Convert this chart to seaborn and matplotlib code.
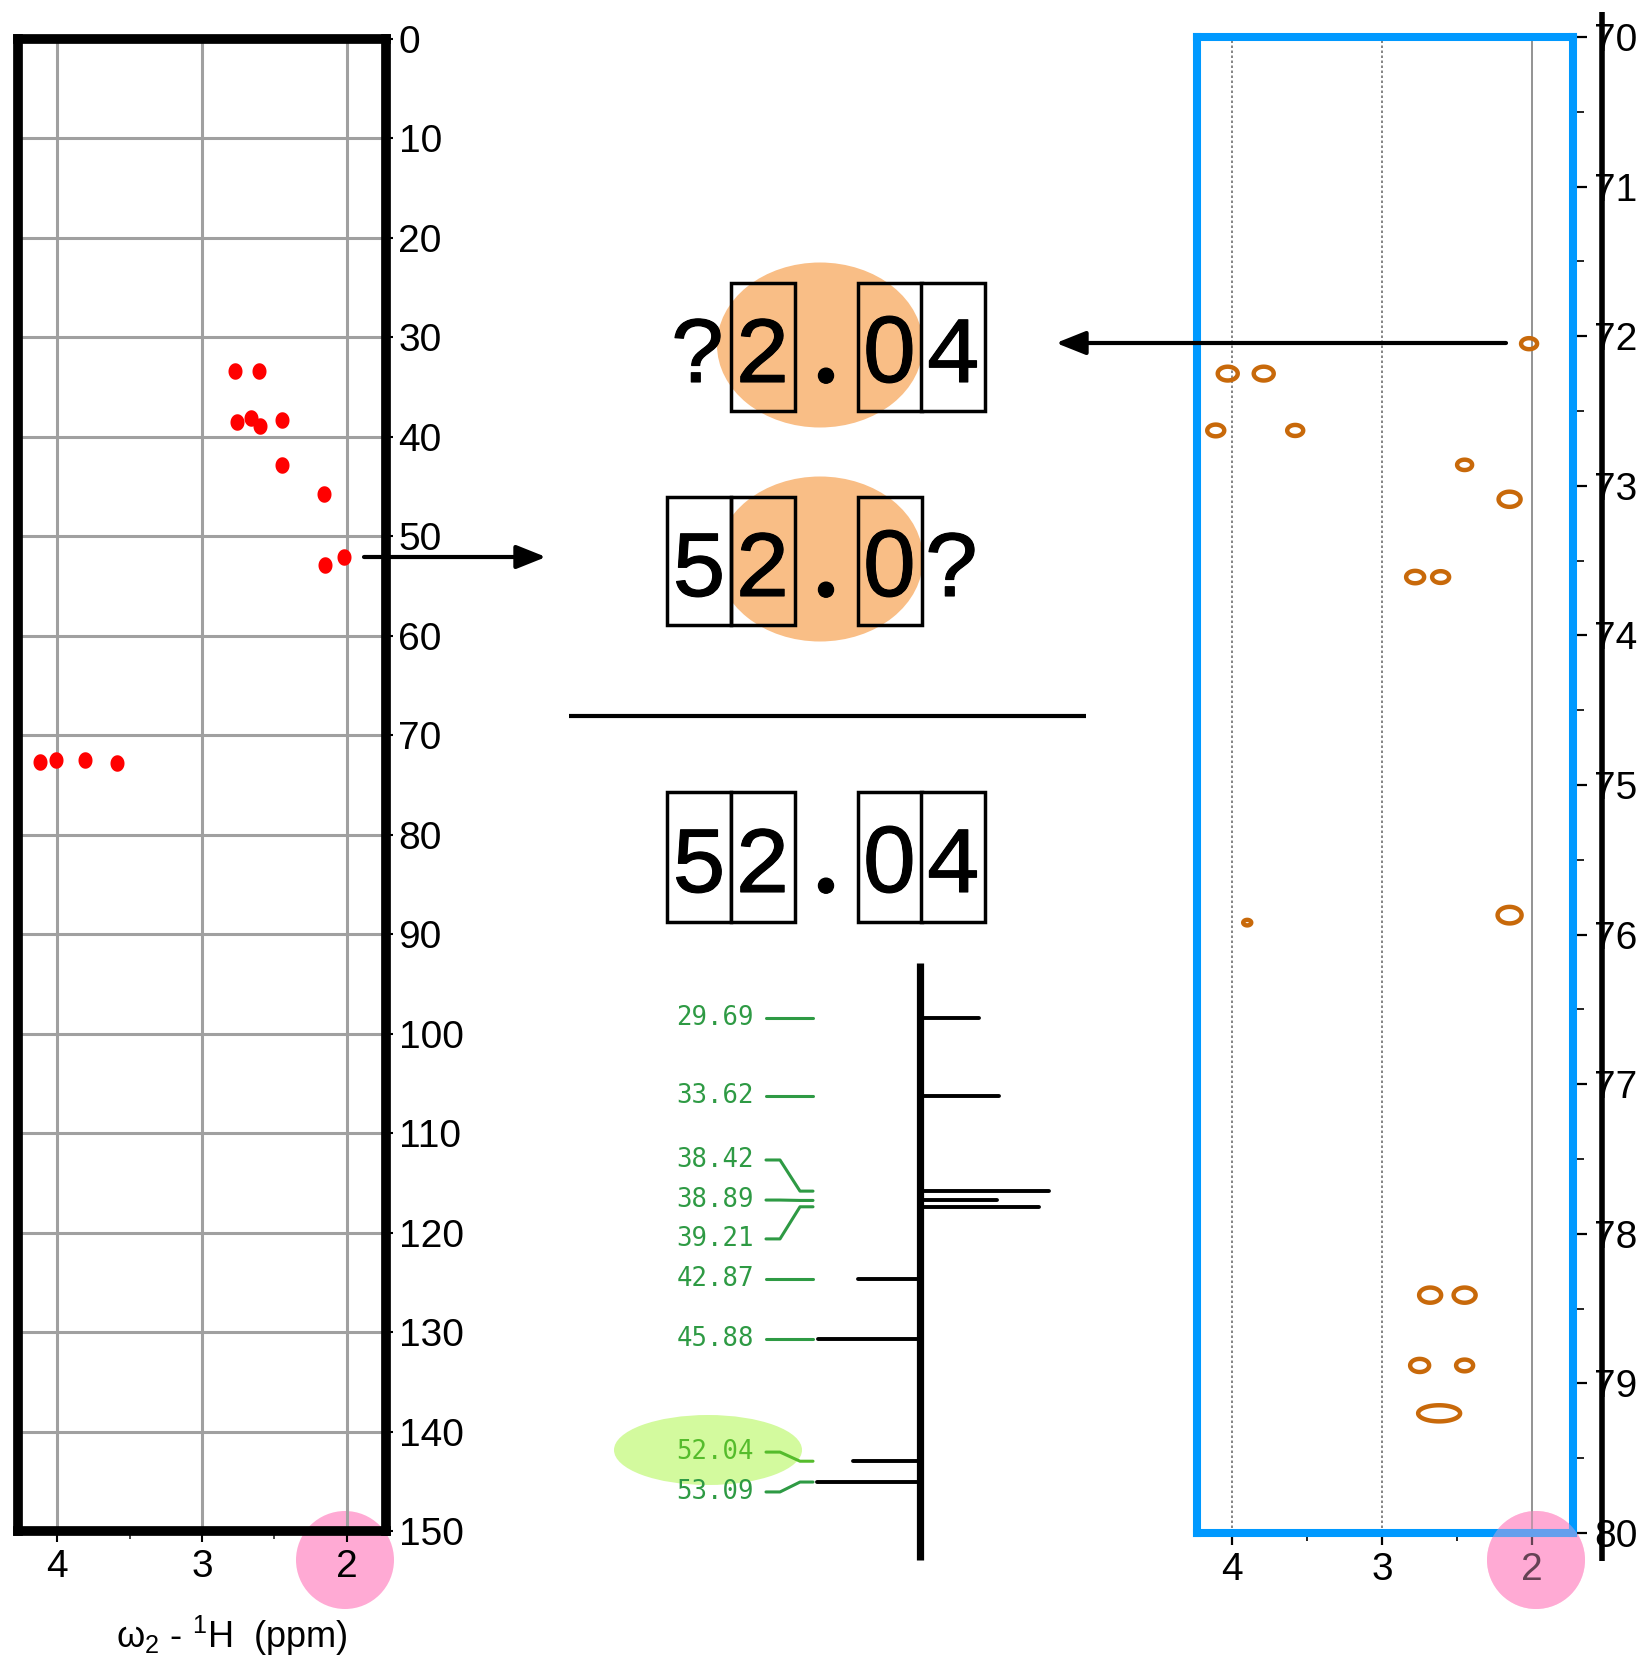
import numpy as np
import matplotlib
matplotlib.use("Agg")
import matplotlib.pyplot as plt
import matplotlib.patheffects as pe
import seaborn as sns
from matplotlib.patches import Ellipse, Rectangle, Circle
from matplotlib.path import Path
from matplotlib.transforms import blended_transform_factory
from matplotlib.ticker import FixedLocator

# ---------------- data ----------------
# 1H-13C HSQC, full 13C window (0-150 ppm)
full_h_ppm = [2.77, 2.61, 2.76, 2.66, 2.60, 2.45, 2.45, 2.16, 2.02, 2.15,
              4.12, 4.01, 3.81, 3.59]
full_c_ppm = [33.4, 33.4, 38.5, 38.1, 38.9, 38.3, 42.8, 45.7, 52.1, 52.9,
              72.7, 72.5, 72.5, 72.8]

# 1H-13C HSQC, narrow 13C window (70-80 ppm, signals folded in)
fold_h_ppm = [2.02, 4.03, 3.79, 4.11, 3.58, 2.45, 2.15, 2.78, 2.61,
              3.90, 2.15, 2.68, 2.45, 2.75, 2.45, 2.62]
fold_c_ppm = [72.05, 72.25, 72.25, 72.63, 72.63, 72.86, 73.09, 73.61, 73.61,
              75.92, 75.87, 78.41, 78.41, 78.88, 78.88, 79.20]
fold_shape = ["round"] * 15 + ["broad"]

# 1D 13C spectrum (positive and negative lines)
c13_shift = [29.69, 33.62, 38.42, 38.89, 39.21, 42.87, 45.88, 52.04, 53.09]
c13_intensity = [46, 61, 100, 60, 92, -48, -79, -52, -80]
spectrum_start, spectrum_end = 26.9, 57.0

# shift puzzle: digits read from each experiment and the combined answer
shift_from_1h = "?2.04"
shift_from_13c = "52.0?"
shift_solved = "52.04"

# ---------------- style ----------------
sns.set_theme(style="ticks")
plt.rcParams["font.family"] = ["Liberation Sans", "DejaVu Sans"]
plt.rcParams["mathtext.fontset"] = "custom"
plt.rcParams["mathtext.rm"] = "Liberation Sans"
plt.rcParams["mathtext.it"] = "Liberation Sans:italic"

W, H = 1641, 1661
fig = plt.figure(figsize=(W / 100, H / 100), dpi=100)
fig.patch.set_facecolor("white")


def rect(x0, y0, x1, y1):
    """pixel box (top-left origin) -> figure fraction rect"""
    return [x0 / W, 1 - y1 / H, (x1 - x0) / W, (y1 - y0) / H]


def ellipse_marker(aspect):
    t = np.linspace(0, 2 * np.pi, 64)
    return Path(np.column_stack([aspect * np.cos(t), np.sin(t)]), closed=True)


TICK_FS = 28
PINK = "#FFAAD4"

# overlay canvas in pixel units for annotations
canvas = fig.add_axes([0, 0, 1, 1], zorder=1)
canvas.set_xlim(0, W)
canvas.set_ylim(H, 0)
canvas.axis("off")

# ---------------- left: full-range HSQC ----------------
axL = fig.add_axes(rect(18, 39, 386, 1531), zorder=0)
sns.scatterplot(x=full_h_ppm, y=full_c_ppm, ax=axL, color="#FF0000",
                marker=ellipse_marker(0.85), s=(16.5 * 0.72) ** 2,
                linewidth=0, legend=False)
axL.set_xlim(4.27, 1.73)
axL.set_ylim(150, 0)
axL.xaxis.set_major_locator(FixedLocator([4, 3, 2]))
axL.xaxis.set_minor_locator(FixedLocator([3.5, 2.5]))
axL.yaxis.set_major_locator(FixedLocator(np.arange(0, 151, 10)))
axL.grid(True, which="major", color="#A0A0A0", lw=2.2)
axL.set_axisbelow(True)
for sp in axL.spines.values():
    sp.set_visible(True)
    sp.set_color("black")
    sp.set_linewidth(7)
    sp.set_capstyle("projecting")
axL.tick_params(axis="y", which="major", left=False, right=True,
                labelleft=False, labelright=True, length=5, width=1.5,
                pad=4, labelsize=TICK_FS, colors="black")
axL.tick_params(axis="x", which="major", bottom=True, top=False,
                length=8, width=1.5, pad=5, labelsize=TICK_FS, colors="black")
axL.tick_params(axis="x", which="minor", bottom=True, length=5.5, width=1.2)
axL.set_xlabel("")
axL.set_ylabel("")
axL.add_patch(Circle((345, 1560), 49, transform=canvas.transData,
                     fc=PINK, ec="none", zorder=0.3, clip_on=False))

# ---------------- right: narrow-window HSQC ----------------
axR = fig.add_axes(rect(1197, 37, 1573, 1533), zorder=0)
orange = "#C8690A"
sizes_px = np.array([16, 20, 20, 17, 16, 15, 22, 18, 17, 8, 24, 22, 22, 19, 17, 42])
axR.axvline(4, color="#707070", lw=1.2, ls=(0, (1.5, 1.5)), zorder=0.6)
axR.axvline(3, color="#707070", lw=1.2, ls=(0, (1.5, 1.5)), zorder=0.6)
axR.axvline(2, color="#808080", lw=1.2, ls="-", zorder=0.6)
sns.scatterplot(x=fold_h_ppm, y=fold_c_ppm, style=fold_shape, ax=axR,
                markers={"round": ellipse_marker(1.45), "broad": ellipse_marker(2.6)},
                s=(sizes_px * 0.72) ** 2, color=orange, facecolor="none",
                edgecolor=orange, linewidth=3.2, legend=False, zorder=2)
axR.set_xlim(4.235, 1.727)
axR.set_ylim(80, 70)
axR.xaxis.set_major_locator(FixedLocator([4, 3, 2]))
axR.xaxis.set_minor_locator(FixedLocator([3.5, 2.5]))
axR.yaxis.set_major_locator(FixedLocator(np.arange(70, 81, 1)))
axR.yaxis.set_minor_locator(FixedLocator(np.arange(70.5, 80, 1)))
axR.grid(False)
for sp in axR.spines.values():
    sp.set_visible(True)
    sp.set_color("#0099FF")
    sp.set_linewidth(5.8)
    sp.set_capstyle("projecting")
axR.tick_params(axis="y", which="major", left=False, right=True,
                labelleft=False, labelright=True, length=10, width=1.6,
                pad=5, labelsize=TICK_FS, colors="black")
axR.tick_params(axis="y", which="minor", left=False, right=True,
                length=8, width=1.2, colors="black")
axR.tick_params(axis="x", which="major", bottom=True, top=False, length=8.5,
                width=1.6, pad=5, labelsize=TICK_FS, colors="black")
axR.tick_params(axis="x", which="minor", bottom=True, length=5.5, width=1.2,
                colors="black")
axR.set_xlabel("")
axR.set_ylabel("")
axR.add_patch(Circle((1536, 1560), 49, transform=canvas.transData,
                     fc=PINK, ec="none", zorder=0.3, clip_on=False))

# ---------------- middle: 1D 13C spectrum ----------------
axS = fig.add_axes(rect(600, 950, 1100, 1570), zorder=2)
axS.patch.set_visible(False)
axS.set_xlim(-248, 139.5)
axS.set_ylim(57.526, 26.261)
axS.axis("off")
axS.vlines(0, spectrum_start, spectrum_end, color="black", lw=5.2)
sticks = axS.hlines(c13_shift, 0, c13_intensity, color="black", lw=2.8)
sticks.set_capstyle("round")

green = "#2E9A44"
green_hi = "#55BC2C"
label_ppm = [29.69, 33.62, 36.85, 38.87, 40.83, 42.87, 45.88, 51.58, 53.59]
lbl_tr = blended_transform_factory(canvas.transData, axS.transData)
highlight = float(shift_solved)
for shift, ly in zip(c13_shift, label_ppm):
    col = green_hi if abs(shift - highlight) < 1e-6 else green
    axS.text(754, ly, f"{shift:.2f}", transform=lbl_tr, ha="right",
             va="center", family="DejaVu Sans Mono", fontsize=18.5, color=col)
    axS.plot([766, 780, 800, 813], [ly, ly, shift, shift], transform=lbl_tr,
             color=col, lw=2.2, solid_joinstyle="round", clip_on=False)

canvas.add_patch(Ellipse((708, 1450), 188, 70, fc="#D3FA9E", ec="none", zorder=0.5))

# ---------------- shift puzzle ----------------
col0, pitch, box_w = 699.0, 63.5, 64
rows = [(shift_from_1h, 347, 128, True),
        (shift_from_13c, 561, 128, True),
        (shift_solved, 857, 130, False)]
shared = [a == b and a.isdigit() for a, b in zip(shift_from_1h, shift_from_13c)]
glyph_font = {"0": ("Liberation Sans", "normal"), ".": ("Liberation Serif", "bold")}
thicken = [pe.withStroke(linewidth=0.8, foreground="black")]
for text, cy, bh, marked in rows:
    if marked:
        canvas.add_patch(Ellipse((820, cy - 2), 206, 165, fc="#F9BE86",
                                 ec="none", zorder=1))
    for i, ch in enumerate(text):
        cx = col0 + i * pitch
        if ch.isdigit():
            fc = "none" if (marked and shared[i]) else "white"
            canvas.add_patch(Rectangle((cx - box_w / 2, cy - bh / 2), box_w, bh,
                                       fc=fc, ec="black", lw=2.5, zorder=2))
        fam, wt = glyph_font.get(ch, ("Liberation Mono", "normal"))
        canvas.text(cx, cy + 35, ch, ha="center", va="baseline",
                    family=fam, fontweight=wt, fontsize=68, color="black",
                    zorder=3, path_effects=thicken)

# ---------------- arrows, rules, highlights ----------------
arrow_kw = dict(arrowstyle="-|>,head_length=0.9,head_width=0.36", color="black",
                lw=3, mutation_scale=20, shrinkA=0, shrinkB=0)
canvas.annotate("", xy=(546, 557), xytext=(364, 557), arrowprops=arrow_kw)
canvas.annotate("", xy=(1056, 343), xytext=(1506, 343), arrowprops=arrow_kw)
canvas.plot([569, 1086], [716, 716], color="black", lw=3, solid_capstyle="butt")
canvas.plot([1602, 1602], [12, 1561], color="black", lw=4, solid_capstyle="butt")
canvas.add_patch(Circle((1536, 1560), 49, fc=PINK, ec="none", alpha=0.4,
                        zorder=10))
canvas.text(232, 1648, r"ω$_2$ - $^1$H  (ppm)", ha="center", va="baseline",
            fontsize=26, color="black")

fig.savefig("out.png", dpi=100)
